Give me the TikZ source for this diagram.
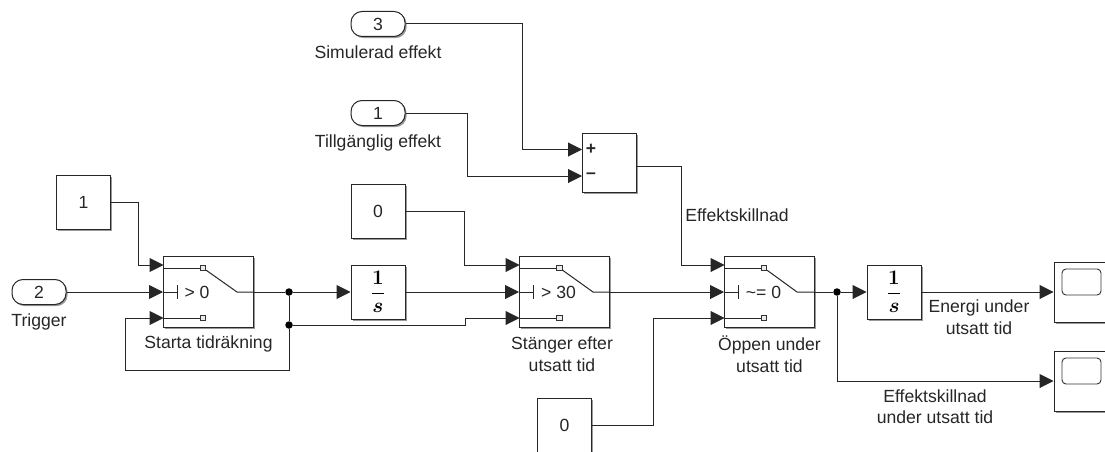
\documentclass[tikz,border=0pt]{standalone}
\usepackage{amsmath}
\usepackage[no-math]{fontspec}
\setmainfont{Liberation Sans}
\usetikzlibrary{arrows.meta,shadows}
\tikzstyle{block} = [rectangle, draw=black!85, line width=1pt, fill=white, inner sep=0pt, minimum width=54pt, minimum height=54pt, drop shadow={shadow xshift=1.6pt, shadow yshift=-1.6pt, opacity=.4, fill=black}]
\tikzstyle{inport} = [block, rounded corners=11pt, minimum height=25pt]
\tikzstyle{swbox} = [block, minimum width=90pt, minimum height=71pt]
\tikzstyle{sumbox} = [block, minimum height=59pt]
\tikzstyle{scopebox} = [block, minimum height=60pt]
\tikzstyle{screen} = [rectangle, draw=black!80, line width=0.9pt, rounded corners=4pt, minimum width=39pt, minimum height=26pt, inner sep=0pt]
\tikzstyle{contact} = [rectangle, draw=black!80, line width=0.7pt, fill=black!8, minimum size=5.5pt, inner sep=0pt]
\tikzstyle{dot} = [circle, fill=black, minimum size=7.5pt, inner sep=0pt]
\tikzstyle{caption} = [align=center, text=black!85, inner sep=0pt]
\tikzstyle{wire} = [draw=black!85, line width=1pt, -{Triangle[length=14pt,width=14pt]}]
\tikzstyle{line} = [draw=black!85, line width=1pt]
\newcommand{\oneovers}{\fontsize{22}{26}\selectfont$\displaystyle\frac{\mathbf{1}}{\boldsymbol{s}}$}

\begin{document}
\begin{tikzpicture}[x=1pt,y=1pt,font=\fontsize{17.6}{21.5}\selectfont]
  \useasboundingbox (0pt, 0pt) rectangle (1105pt, -452pt);
  % sources
  \draw (83.5pt, -202.5pt)node[block,text=black!85](c1){1};
  \draw (39.0pt, -292.0pt)node[inport,text=black!85](in2){2};
  \draw (378.0pt, -211.0pt)node[block,text=black!85](c2){0};
  \draw (378.0pt, -24.0pt)node[inport,text=black!85](in3){3};
  \draw (378.0pt, -113.0pt)node[inport,text=black!85](in1){1};
  \draw (564.5pt, -425.0pt)node[block,text=black!85](c3){0};
  % main blocks
  \draw (208.5pt, -292.0pt)node[swbox](sw1){};
  \draw (378.0pt, -292.0pt)node[block](int1){\oneovers};
  \draw (564.5pt, -292.0pt)node[swbox](sw2){};
  \draw (609.0pt, -162.5pt)node[sumbox](sum){};
  \draw (769.5pt, -292.0pt)node[swbox](sw3){};
  \draw (894.0pt, -292.0pt)node[block](int2){\oneovers};
  \draw (1081.0pt, -292.0pt)node[scopebox](sco1){};
  \draw (1081.0pt, -381.0pt)node[scopebox](sco2){};
  \draw (1081.5pt, -282.0pt)node[screen](scr1){};
  \draw (1081.5pt, -371.0pt)node[screen](scr2){};
  % inputs of the switches and the sum
  \coordinate (sw1a) at (163.5pt, -265.0pt);
  \coordinate (sw1c) at (163.5pt, -318.0pt);
  \coordinate (sw2a) at (519.5pt, -265.0pt);
  \coordinate (sw2c) at (519.5pt, -318.0pt);
  \coordinate (sw3a) at (724.5pt, -265.0pt);
  \coordinate (sw3c) at (724.5pt, -318.0pt);
  \coordinate (suma) at (582.0pt, -149.5pt);
  \coordinate (sumb) at (582.0pt, -176.0pt);
  % switch 1
  \draw (203.0pt, -268.0pt)node[contact](sw1t){};
  \draw (203.0pt, -318.0pt)node[contact](sw1b){};
  \coordinate (sw1k) at (237.0pt, -292.0pt);
  \coordinate (sw1h) at (177.0pt, -292.0pt);
  \draw (197.0pt, -292.0pt)node[caption](sw1x){> 0};
  \path[line] (sw1.west |- sw1t) -- (sw1t);
  \path[line] (sw1.west |- sw1b) -- (sw1b);
  \path[line] (sw1t) -- (sw1k) -- (sw1.east);
  \path[line] (sw1.west) -- (sw1h);
  \path[line] ([yshift=7pt]sw1h) -- ([yshift=-7pt]sw1h);
  % switch 2
  \draw (559.5pt, -268.0pt)node[contact](sw2t){};
  \draw (559.5pt, -318.0pt)node[contact](sw2b){};
  \coordinate (sw2k) at (593.0pt, -292.0pt);
  \coordinate (sw2h) at (533.0pt, -292.0pt);
  \draw (558.5pt, -292.0pt)node[caption](sw2x){> 30};
  \path[line] (sw2.west |- sw2t) -- (sw2t);
  \path[line] (sw2.west |- sw2b) -- (sw2b);
  \path[line] (sw2t) -- (sw2k) -- (sw2.east);
  \path[line] (sw2.west) -- (sw2h);
  \path[line] ([yshift=7pt]sw2h) -- ([yshift=-7pt]sw2h);
  % switch 3
  \draw (764.0pt, -268.0pt)node[contact](sw3t){};
  \draw (764.0pt, -318.0pt)node[contact](sw3b){};
  \coordinate (sw3k) at (797.0pt, -292.0pt);
  \coordinate (sw3h) at (738.0pt, -292.0pt);
  \draw (763.5pt, -292.0pt)node[caption](sw3x){\textasciitilde= 0};
  \path[line] (sw3.west |- sw3t) -- (sw3t);
  \path[line] (sw3.west |- sw3b) -- (sw3b);
  \path[line] (sw3t) -- (sw3k) -- (sw3.east);
  \path[line] (sw3.west) -- (sw3h);
  \path[line] ([yshift=7pt]sw3h) -- ([yshift=-7pt]sw3h);
  % sum signs
  \draw (591.0pt, -149.5pt)node[caption](plus){\textbf{+}};
  \draw (591.0pt, -176.0pt)node[caption](minus){\textbf{--}};
  % junctions
  \draw (289.0pt, -292.0pt)node[dot](j1){};
  \draw (289.0pt, -325.0pt)node[dot](j2){};
  \draw (837.0pt, -292.0pt)node[dot](j3){};
  % connections
  \path[wire] (c1.east) -- ++(27pt, 0pt) |- (sw1a);
  \path[wire] (in2.east) -- (sw1.west);
  \path[line] (sw1.east) -- (j1);
  \path[wire] (j1) -- (int1.west);
  \path[line] (j1) -- (j2);
  \path[wire] (j2) -- ++(0pt, -45pt) -- ++(-164pt, 0pt) |- (sw1c);
  \path[wire] (j2) -- ++(176pt, 0pt) |- (sw2c);
  \path[wire] (c2.east) -- ++(59pt, 0pt) |- (sw2a);
  \path[wire] (int1.east) -- (sw2.west);
  \path[wire] (sw2.east) -- (sw3.west);
  \path[wire] (in3.east) -- ++(117pt, 0pt) |- (suma);
  \path[wire] (in1.east) -- ++(62pt, 0pt) |- (sumb);
  \path[wire] ([yshift=-4pt]sum.east) -- ++(45pt, 0pt) |- (sw3a);
  \path[wire] (c3.east) -- ++(61.5pt, 0pt) |- (sw3c);
  \path[line] (sw3.east) -- (j3);
  \path[wire] (j3) -- (int2.west);
  \path[wire] (j3) |- (sco2.west);
  \path[wire] (int2.east) -- (sco1.west);
  % labels
  \draw (39.0pt, -322.0pt)node[caption](l1){Trigger};
  \draw (378.0pt, -52.0pt)node[caption](l2){Simulerad effekt};
  \draw (378.0pt, -143.0pt)node[caption](l3){Tillgänglig effekt};
  \draw (208.5pt, -344.0pt)node[caption](l4){Starta tidräkning};
  \draw (562.0pt, -354.0pt)node[caption](l5){Stänger efter\\utsatt tid};
  \draw (769.5pt, -354.0pt)node[caption](l6){Öppen under\\utsatt tid};
  \draw (737.0pt, -215.0pt)node[caption](l7){Effektskillnad};
  \draw (935.0pt, -406.5pt)node[caption](l8){Effektskillnad\\under utsatt tid};
  \draw (979.0pt, -317.0pt)node[caption](l9){Energi under\\utsatt tid};
\end{tikzpicture}
\end{document}
